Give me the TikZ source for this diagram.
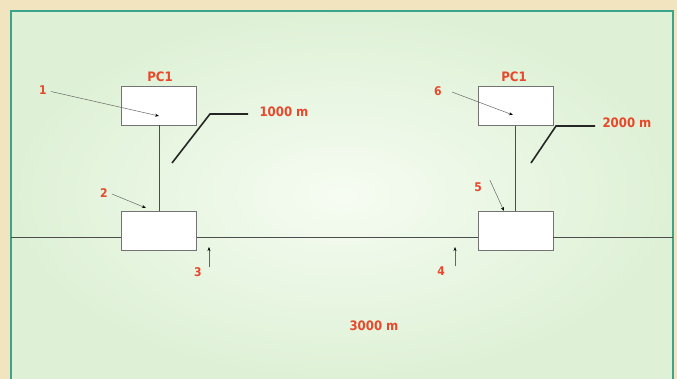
\documentclass[tikz,border=0pt]{standalone}
\usepackage{fontspec}
\usepackage{xcolor}
\usetikzlibrary{arrows.meta}
\newfontfamily\rotulo{DejaVu Sans Condensed}

\definecolor{fondo}{HTML}{F2E4BF}
\definecolor{panel}{HTML}{DEF1D6}
\definecolor{panelclaro}{HTML}{F6FCF2}
\definecolor{borde}{HTML}{3AA58A}
\definecolor{rojo}{HTML}{E8472B}

\begin{document}
\begin{tikzpicture}[x=1pt, y=-1pt,
  caja/.style={draw=black!55, fill=white, line width=0.6pt, minimum width=75pt, minimum height=39pt, inner sep=0pt},
  etiqueta/.style={text=rojo, inner sep=0pt, font=\rotulo\bfseries\fontsize{13}{13}\selectfont},
  numero/.style={text=rojo, inner sep=0pt, font=\rotulo\bfseries\fontsize{12}{12}\selectfont},
  flecha/.style={draw=black!60, line width=0.5pt, -{Stealth[length=4pt, width=3pt, black]}},
  cota/.style={draw=black!85, line width=1.6pt},
  cable/.style={draw=black!70, line width=0.6pt}]
  % Fondo
  \useasboundingbox (0,0) rectangle (677,379);
  \fill[fondo] (0,0) rectangle (677,379);
  \shade[inner color=panelclaro, outer color=panel] (11,11) rectangle (673,379);
  \draw[borde, line width=2pt] (11,379) -- (11,11) -- (673,11) -- (673,379);

  % Nodos
  \node[caja] (pcA) at (159,105.5) {};      % PC izquierdo
  \node[caja] (tapA) at (159,230.5) {};     % Caja inferior izquierda
  \node[caja] (pcB) at (515.5,106) {};      % PC derecho
  \node[caja] (tapB) at (515.5,231) {};     % Caja inferior derecha
  \coordinate (busL) at (11,237);           % Extremo izquierdo del bus
  \coordinate (busR) at (673,237);          % Extremo derecho del bus

  % Etiquetas
  \node[etiqueta] (pcA-t) at (160,77) {PC1};
  \node[etiqueta] (pcB-t) at (514,77) {PC1};
  \node[etiqueta] (distA) at (284,112) {1000 m};
  \node[etiqueta] (distB) at (627,123) {2000 m};
  \node[etiqueta] (distC) at (374,326) {3000 m};
  \node[numero] (n1) at (43,90.5) {1};
  \node[numero] (n2) at (104,193) {2};
  \node[numero] (n3) at (198,272) {3};
  \node[numero] (n4) at (441,271) {4};
  \node[numero] (n5) at (478,187) {5};
  \node[numero] (n6) at (438,91) {6};

  % Cables
  \draw[cable] (busL) -- (busL -| tapA.west);
  \draw[cable] (tapA.east |- busL) -- (tapB.west |- busL);
  \draw[cable] (tapB.east |- busL) -- (busR);
  \draw[cable] (pcA.south) -- (tapA.north);
  \draw[cable] (pcB.south) -- (tapB.north);

  % Cotas
  \coordinate (cA) at (172,163);
  \coordinate (cB) at (531,163);
  \draw[cota] (cA) -- (210,114) -- (248,114);
  \draw[cota] (cB) -- (556,126) -- (595,126);

  % Flechas
  \coordinate (f1) at (159,116);
  \coordinate (f2) at (146,208);
  \coordinate (f3) at (209,247);
  \coordinate (f4) at (455,247);
  \coordinate (f5) at (504,211);
  \coordinate (f6) at (513,115);
  \draw[flecha] (n1.east) ++(4,1) -- (f1);
  \draw[flecha] (n2.east) ++(4,1) -- (f2);
  \draw[flecha] (n3.north -| f3) -- (f3);
  \draw[flecha] (n4.north -| f4) -- (f4);
  \draw[flecha] (n5.north east) ++(8,-2) -- (f5);
  \draw[flecha] (n6.east) ++(10,1) -- (f6);
\end{tikzpicture}
\end{document}
